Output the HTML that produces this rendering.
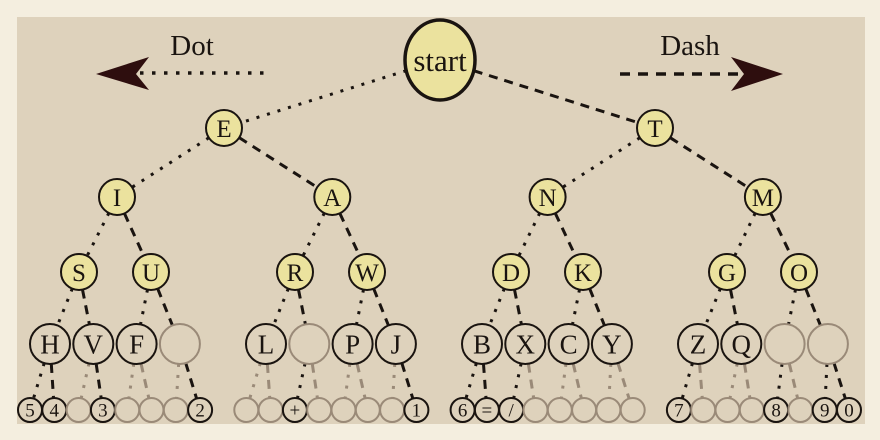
<!DOCTYPE html>
<html><head><meta charset="utf-8"><style>
html,body{margin:0;padding:0;background:#f4eedf;}
svg{display:block;}
text{font-family:"Liberation Serif",serif;fill:#1a1410;}
</style></head><body>
<svg id="chart" width="880" height="440" viewBox="0 0 880 440" xmlns="http://www.w3.org/2000/svg">
<rect x="0" y="0" width="880" height="440" fill="#f4eedf"/>
<rect x="17" y="17" width="848" height="407" fill="#ded2bc"/>
<g id="legend">
  <text x="192" y="55" font-size="29" text-anchor="middle">Dot</text>
  <line x1="140" y1="73" x2="265" y2="73" stroke="#1a1410" stroke-width="3.5" stroke-dasharray="3.5 8.5"/>
  <path d="M96,74 L149,57 L136,74 L149,90 Z" fill="#2e0e0e"/>
  <text x="690" y="55" font-size="29" text-anchor="middle">Dash</text>
  <line x1="620" y1="74" x2="742" y2="74" stroke="#1a1410" stroke-width="3.5" stroke-dasharray="10 8"/>
  <path d="M783,74 L731,57 L744,74 L731,91 Z" fill="#2e0e0e"/>
</g>
<g id="edges"></g>
<g id="nodes"></g>
</svg>
<script>
// Morse tree labels by level (empty string = unused code)
const level1 = ["E","T"];
const level2 = ["I","A","N","M"];
const level3 = ["S","U","R","W","D","K","G","O"];
const level4 = ["H","V","F","","L","","P","J","B","X","C","Y","Z","Q","",""];
const level5 = ["5","4","","3","","","","2","","","+","","","","","1","6","=","/","","","","","","7","","","","8","","9","0"];

const NS="http://www.w3.org/2000/svg";
const eg=document.getElementById('edges'), ng=document.getElementById('nodes');
function mk(t,a,p){const e=document.createElementNS(NS,t);for(const k in a)e.setAttribute(k,a[k]);p.appendChild(e);return e;}

const levels=[["start"],level1,level2,level3,level4,level5];
const ys=[60,128,197,272,344,410];
const rs=[[35,40],[18,18],[18,18],[18,18],[20,20],[12,12]];
function xOf(l,i){
  if(l===0) return 440;
  if(l===1) return [224,655][i];
  if(l===2) return 117+i*215.3;
  if(l===3){const g=Math.floor(i/2);return 79+g*216+(i%2)*72;}
  if(l===4){const g=Math.floor(i/4);return 50+g*216+(i%4)*43.3;}
  const g=Math.floor(i/8);return 30+g*216.3+(i%8)*24.3;
}
function subtreeEmpty(l,i){
  if(levels[l][i]!=="") return false;
  if(l+1>=levels.length) return true;
  return subtreeEmpty(l+1,2*i)&&subtreeEmpty(l+1,2*i+1);
}
const fills=["#ebe29e","#ebe29e","#ebe29e","#ebe29e","none","none"];
const fs=[31,25,25,25,27,19];

for(let l=1;l<levels.length;l++){
  levels[l].forEach((lab,i)=>{
    const p=Math.floor(i/2), px=xOf(l-1,p), py=ys[l-1], cx=xOf(l,i), cy=ys[l];
    const [prx,pry]=rs[l-1], [crx,cry]=rs[l];
    const dx=cx-px, dy=cy-py, d=Math.hypot(dx,dy);
    const ux=dx/d, uy=dy/d;
    const tP=1/Math.sqrt((ux/prx)**2+(uy/pry)**2), tC=1/Math.sqrt((ux/crx)**2+(uy/cry)**2);
    const isDot=i%2===0, empty=subtreeEmpty(l,i);
    const ln=mk('line',{x1:px+ux*tP,y1:py+uy*tP,x2:cx-ux*tC,y2:cy-uy*tC,stroke:empty?'#9a8a78':'#1a1410','stroke-width':3,'stroke-dasharray':isDot?'3 8':'9 7'},eg);
    
    
  });
}
levels.forEach((arr,l)=>{
  arr.forEach((lab,i)=>{
    const cx=xOf(l,i), cy=ys[l], empty=lab==="";
    const g=mk('g',{},ng);
    
    
    mk('ellipse',{cx:cx,cy:cy,rx:rs[l][0],ry:rs[l][1],fill:empty?'none':fills[l],stroke:empty?'#9a8a78':'#1a1410','stroke-width':l===0?3.5:2},g);
    if(!empty){const t=mk('text',{x:cx,y:cy+fs[l]*0.35,'font-size':fs[l],'text-anchor':'middle'},g);t.textContent=lab;}
  });
});
</script>
</body></html>
